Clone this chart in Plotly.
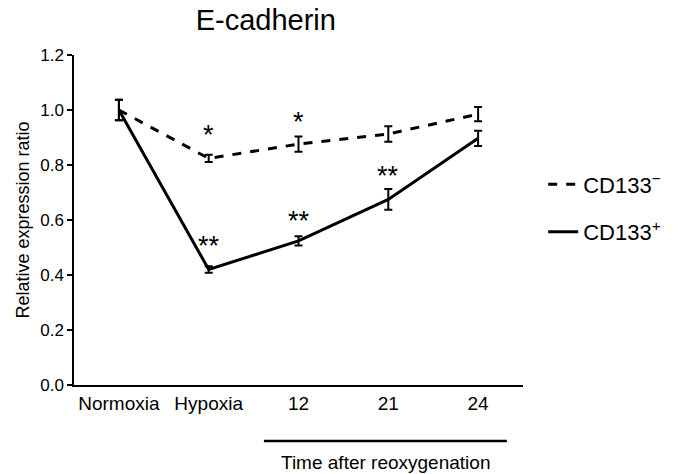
import plotly.graph_objects as go

categories = ["Normoxia", "Hypoxia", "12", "21", "24"]
neg_values = [1.0, 0.824, 0.876, 0.913, 0.985]
neg_err = [0.037, 0.013, 0.028, 0.028, 0.026]
pos_values = [1.0, 0.420, 0.524, 0.675, 0.897]
pos_err = [0.037, 0.012, 0.017, 0.038, 0.028]
neg_stars = ["", "*", "*", "", ""]
neg_star_y = [None, 0.91, 0.955, None, None]
pos_stars = ["", "**", "**", "**", ""]
pos_star_y = [None, 0.505, 0.597, 0.76, None]
y_ticks = [0.0, 0.2, 0.4, 0.6, 0.8, 1.0, 1.2]

FONT = "Liberation Sans, Arial, sans-serif"

fig = go.Figure()
fig.add_trace(go.Scatter(
    x=categories, y=neg_values, mode="lines", name="CD133<sup>−</sup>",
    line=dict(color="black", width=3, dash="dash"),
    error_y=dict(type="data", array=neg_err, color="black", thickness=2, width=4),
    legendgroup="neg",
))
fig.add_trace(go.Scatter(
    x=categories, y=pos_values, mode="lines", name="CD133<sup>+</sup>",
    line=dict(color="black", width=3),
    error_y=dict(type="data", array=pos_err, color="black", thickness=2, width=4),
    legendgroup="pos",
))

for i, (s, yy) in enumerate(zip(neg_stars, neg_star_y)):
    if s:
        fig.add_annotation(x=i, y=yy, text=s, showarrow=False, xref="x", yref="y",
                           font=dict(size=27, color="black", family=FONT))
for i, (s, yy) in enumerate(zip(pos_stars, pos_star_y)):
    if s:
        fig.add_annotation(x=i, y=yy, text=s, showarrow=False, xref="x", yref="y",
                           font=dict(size=27, color="black", family=FONT))

fig.add_shape(type="line", xref="paper", yref="paper", x0=0.423, x1=0.964, y0=-0.17, y1=-0.17,
              line=dict(color="black", width=2.5))
fig.add_annotation(x=0.694, y=-0.235, xref="paper", yref="paper", xanchor="center",
                   yanchor="middle", text="Time after reoxygenation",
                   showarrow=False, font=dict(size=19, color="black", family=FONT))

fig.update_layout(
    width=678, height=474,
    margin=dict(l=74, r=155, t=55, b=89),
    plot_bgcolor="white", paper_bgcolor="white",
    font=dict(family=FONT, color="black", size=17),
    title=dict(text="E-cadherin", x=0.392, xanchor="center", y=0.958, yanchor="middle",
               font=dict(size=29, family=FONT, color="black")),
    showlegend=True,
    legend=dict(x=1.045, y=0.535, xanchor="left", yanchor="middle", tracegroupgap=16,
                font=dict(size=22, family=FONT, color="black"), itemwidth=30),
    xaxis=dict(type="category", range=[-0.5, 4.5], showline=True, linecolor="black", linewidth=1.5,
               ticks="", showgrid=False, zeroline=False, tickfont=dict(size=19)),
    yaxis=dict(range=[0, 1.2], tickvals=y_ticks, tickformat=".1f", showline=True, linecolor="black",
               linewidth=1.5, ticks="outside", ticklen=5, tickwidth=1.5, tickcolor="black",
               showgrid=False, zeroline=False, tickfont=dict(size=17),
               title=dict(text="Relative expression ratio", font=dict(size=18), standoff=6)),
)

fig.write_html("out.html")
